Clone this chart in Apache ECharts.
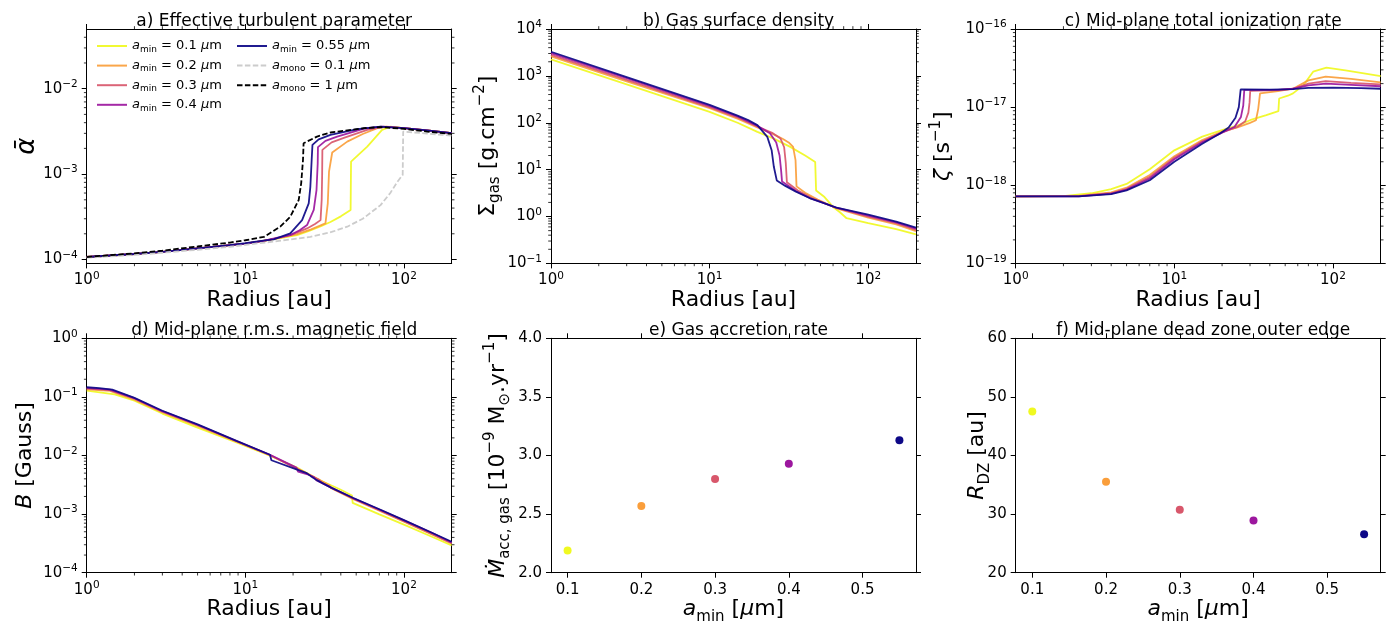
<!DOCTYPE html>
<html><head><meta charset="utf-8">
<script src="https://cdn.jsdelivr.net/npm/echarts@6/dist/echarts.min.js"></script>
<style>html,body{margin:0;padding:0;background:#fff}#c{width:1392px;height:624px}</style>
</head><body><div id="c"></div><script>
// ---------------- data ----------------
const aminNames = ['amin0.1', 'amin0.2', 'amin0.3', 'amin0.4', 'amin0.55'];
const aminColors = ['#f0f921', '#fa9e3b', '#d8576b', '#9c179e', '#0d0887'];
const aminValues = [0.1, 0.2, 0.3, 0.4, 0.55];
const mdotValues = [2.19, 2.57, 2.80, 2.93, 3.13];
const rdzValues = [47.5, 35.5, 30.75, 28.9, 26.55];

// a) effective turbulent parameter  [radius au, alpha]
const alpha01 = [[1,1.07e-4],[2,1.16e-4],[3,1.23e-4],[5,1.35e-4],[8,1.47e-4],[10,1.53e-4],[13,1.65e-4],[16.6,1.78e-4],[21.2,1.93e-4],[25,2.15e-4],[30,2.45e-4],[34.4,2.75e-4],[40,3.2e-4],[46.1,3.8e-4],[46.4,1.4e-3],[58.7,2.1e-3],[72.8,3.3e-3],[82,3.6e-3],[100,3.45e-3],[140,3.25e-3],[200,3.02e-3]];
const alpha02 = [[1,1.07e-4],[2,1.16e-4],[3,1.23e-4],[5,1.35e-4],[8,1.47e-4],[10,1.53e-4],[13,1.65e-4],[16.6,1.8e-4],[21,1.97e-4],[26,2.25e-4],[32,2.65e-4],[33.1,4.55e-4],[33.7,1.07e-3],[35.3,1.79e-3],[43.9,2.4e-3],[55,2.95e-3],[68,3.45e-3],[78,3.6e-3],[100,3.45e-3],[140,3.25e-3],[200,3.02e-3]];
const alpha03 = [[1,1.07e-4],[2,1.16e-4],[3,1.23e-4],[5,1.35e-4],[8,1.47e-4],[10,1.53e-4],[13,1.65e-4],[16.6,1.8e-4],[20,1.98e-4],[24.5,2.31e-4],[27.5,2.6e-4],[29.8,2.89e-4],[30.3,5e-4],[30.5,9.8e-4],[30.6,1.92e-3],[35,2.35e-3],[41.8,2.65e-3],[58.7,3.3e-3],[75,3.6e-3],[100,3.45e-3],[140,3.25e-3],[200,3.02e-3]];
const alpha04 = [[1,1.07e-4],[2,1.16e-4],[3,1.23e-4],[5,1.35e-4],[8,1.47e-4],[10,1.53e-4],[13,1.65e-4],[16,1.8e-4],[19.2,1.93e-4],[22,2.2e-4],[24.5,2.53e-4],[27,3.8e-4],[28.1,6.5e-4],[28.6,1.34e-3],[28.7,2.07e-3],[32,2.45e-3],[37.9,2.75e-3],[56,3.4e-3],[72,3.6e-3],[100,3.45e-3],[140,3.25e-3],[200,3.02e-3]];
const alpha055 = [[1,1.07e-4],[2,1.16e-4],[3,1.23e-4],[5,1.35e-4],[8,1.47e-4],[10,1.55e-4],[13,1.66e-4],[15.1,1.72e-4],[19.2,2.02e-4],[22.8,2.89e-4],[25.1,4.55e-4],[25.7,7.1e-4],[26.2,1.47e-3],[26.5,2.2e-3],[29,2.55e-3],[34.4,2.88e-3],[50.8,3.37e-3],[71.2,3.6e-3],[100,3.45e-3],[140,3.25e-3],[200,3.02e-3]];
const alphaMono01 = [[1,1.05e-4],[2,1.13e-4],[3,1.2e-4],[5,1.3e-4],[8,1.41e-4],[15,1.62e-4],[25.7,1.84e-4],[35,2.1e-4],[43.9,2.42e-4],[55,3.0e-4],[71.2,4.33e-4],[82,6.0e-4],[90.8,8.1e-4],[98.2,9.8e-4],[98.9,3.15e-3],[140,2.98e-3],[200,2.82e-3]];
const alphaMono1 = [[1,1.07e-4],[2,1.18e-4],[3,1.27e-4],[5,1.42e-4],[8,1.58e-4],[10,1.68e-4],[13.1,1.84e-4],[16.6,2.42e-4],[19.2,3.16e-4],[21.7,4.97e-4],[22.5,7.8e-4],[23.1,1.47e-3],[23.3,2.3e-3],[28.3,2.75e-3],[34.4,3.07e-3],[56,3.45e-3],[71,3.55e-3],[100,3.38e-3],[140,3.15e-3],[200,2.95e-3]];

// b) gas surface density [radius au, g/cm2]
const sigma01 = [[1,2250],[3,658],[10,171],[15,100],[20,64],[25,47],[32,31],[40,20],[46.3,14.6],[46.9,3.6],[53,2.6],[60,1.6],[66,1.25],[73,0.92],[100,0.72],[150,0.54],[200,0.415]];
const sigma02 = [[1,2600],[3,760],[10,205],[15,122],[20,80],[25,58],[29,45],[31.5,38],[33.6,30.5],[34.8,16],[35.3,4.4],[40,3.2],[48,2.3],[63,1.5],[100,0.95],[150,0.68],[200,0.49]];
const sigma03 = [[1,2800],[3,820],[10,215],[15,130],[20,83],[25,60],[28,46],[29.5,30],[30.2,14],[30.7,5.4],[36,3.6],[45,2.4],[63,1.52],[100,1.0],[150,0.72],[200,0.52]];
const sigma04 = [[1,3050],[3,890],[10,228],[15,136],[20,86],[24,60],[26.3,38],[27.6,20],[28.2,10],[28.6,5.6],[35,3.5],[43,2.45],[63,1.54],[100,1.05],[150,0.75],[200,0.55]];
const sigma055 = [[1,3270],[3,940],[10,240],[15,142],[17.5,114],[20,89],[23.1,50],[24.6,26],[25.4,11.5],[26.5,5.9],[30,4.5],[35,3.4],[43,2.45],[50,2.05],[63,1.55],[100,1.1],[150,0.78],[200,0.58]];

// c) mid-plane total ionization rate [radius au, s^-1]
const zeta01 = [[1,7.2e-19],[2,7.25e-19],[3,7.9e-19],[4,8.9e-19],[5,1.04e-18],[7,1.6e-18],[10,2.8e-18],[15,4.2e-18],[20,5.07e-18],[25,5.8e-18],[30,6.8e-18],[38,7.9e-18],[45.3,8.9e-18],[45.8,1.29e-17],[52,1.4e-17],[56,1.5e-17],[65,1.9e-17],[75,2.84e-17],[91,3.2e-17],[120,2.95e-17],[200,2.5e-17]];
const zeta02 = [[1,7.2e-19],[2.5,7.3e-19],[4,8.1e-19],[5,9.3e-19],[7,1.35e-18],[10,2.35e-18],[15,3.8e-18],[20,4.85e-18],[25,5.5e-18],[30,6.3e-18],[32.7,6.8e-18],[33.8,9.5e-18],[34.7,1.5e-17],[45,1.6e-17],[56,1.72e-17],[70,2.2e-17],[90,2.45e-17],[130,2.3e-17],[200,2.07e-17]];
const zeta03 = [[1,7.2e-19],[2.5,7.25e-19],[4,7.9e-19],[5,9.0e-19],[7,1.28e-18],[10,2.25e-18],[15,3.65e-18],[20,4.75e-18],[25,5.6e-18],[28,6.6e-18],[29.3,8.5e-18],[29.8,1.15e-17],[30.1,1.62e-17],[45,1.65e-17],[56,1.72e-17],[70,2.0e-17],[90,2.15e-17],[130,2.05e-17],[200,1.95e-17]];
const zeta04 = [[1,7.2e-19],[2.5,7.22e-19],[4,7.8e-19],[5,8.8e-19],[7,1.22e-18],[10,2.15e-18],[15,3.55e-18],[20,4.7e-18],[24,5.6e-18],[26.3,7.5e-18],[27.2,1.05e-17],[27.6,1.66e-17],[45,1.66e-17],[56,1.72e-17],[70,1.9e-17],[90,2.0e-17],[130,1.93e-17],[200,1.85e-17]];
const zeta055 = [[1,7.2e-19],[2.5,7.2e-19],[4,7.7e-19],[5,8.6e-19],[7,1.16e-18],[10,2.0e-18],[15,3.4e-18],[19.4,4.6e-18],[22,5.5e-18],[24.3,7.3e-18],[25.5,1.0e-17],[26.2,1.69e-17],[40,1.68e-17],[56,1.7e-17],[70,1.76e-17],[100,1.78e-17],[150,1.75e-17],[200,1.72e-17]];

// d) mid-plane r.m.s. magnetic field [radius au, Gauss]
const bfield01 = [[1,0.128],[1.5,0.11],[2,0.086],[3,0.052],[5,0.030],[8.8,0.0167],[14.3,0.0099],[21,0.0063],[30,0.0037],[40,0.0026],[47,0.00208],[47.5,0.00155],[70,0.00099],[100,0.00066],[150,0.00041],[200,0.000292]];
const bfield02 = [[1,0.134],[1.4,0.127],[2,0.09],[3,0.055],[5,0.032],[8.8,0.0172],[14.3,0.0101],[21,0.0061],[30,0.0037],[34,0.0031],[34.5,0.0028],[48,0.0018],[70,0.00114],[100,0.00074],[150,0.00045],[200,0.000315]];
const bfield03 = [[1,0.139],[1.4,0.131],[2,0.093],[3,0.056],[5,0.033],[8.8,0.0175],[14.3,0.0102],[21,0.006],[29,0.0039],[30.5,0.0034],[48,0.00183],[70,0.00117],[100,0.00076],[150,0.00046],[200,0.00032]];
const bfield04 = [[1,0.143],[1.4,0.133],[2,0.095],[3,0.057],[5,0.0335],[8.8,0.0177],[14.3,0.0103],[21,0.0062],[21.5,0.0053],[25,0.0047],[27,0.0043],[28,0.0038],[35,0.0028],[48,0.00186],[70,0.0012],[100,0.00078],[150,0.00048],[200,0.000328]];
const bfield055 = [[1,0.146],[1.2,0.141],[1.45,0.133],[2,0.096],[3,0.058],[5,0.034],[8.8,0.0178],[14.3,0.0103],[14.6,0.0083],[21,0.0058],[24.4,0.005],[26,0.0044],[28.2,0.0038],[35,0.0028],[48,0.00188],[70,0.00121],[100,0.00079],[150,0.00048],[200,0.000337]];

// tick labels / ticks
const radiusMajor = [1, 10, 100];
const alphaMajor = [1e-4, 1e-3, 1e-2];
const sigmaMajor = [1e-1, 1, 10, 100, 1000, 10000];
const zetaMajor = [1e-19, 1e-18, 1e-17, 1e-16];
const bfieldMajor = [1e-4, 1e-3, 1e-2, 1e-1, 1];
const aminTicks = [0.1, 0.2, 0.3, 0.4, 0.5];
const mdotTicks = [2.0, 2.5, 3.0, 3.5, 4.0];
const rdzTicks = [20, 30, 40, 50, 60];

// ---------------- helpers ----------------
const FONT = 'DejaVu Sans';
function minorLog(lo, hi) {
  const out = [];
  for (let e = Math.floor(Math.log10(lo)); e <= Math.ceil(Math.log10(hi)); e++) {
    for (let k = 2; k <= 9; k++) {
      const v = k * Math.pow(10, e);
      if (v > lo * 1.0001 && v < hi * 0.9999) out.push(v);
    }
  }
  return out;
}
function powFmt(v) {
  const e = Math.round(Math.log10(v));
  return '10{sup|' + (e < 0 ? '\u2212' + (-e) : e) + '}';
}
const tickRich = { sup: { fontSize: 10.5, fontFamily: FONT, color: '#000', verticalAlign: 'top', lineHeight: 10 } };
const nameRich = {
  i: { fontStyle: 'italic', fontSize: 22, fontFamily: FONT, color: '#000' },
  ibig: { fontStyle: 'italic', fontSize: 26, fontFamily: FONT, color: '#000' },
  sub: { fontSize: 15, fontFamily: FONT, color: '#000', verticalAlign: 'bottom', lineHeight: 15 },
  sup: { fontSize: 15, fontFamily: FONT, color: '#000', verticalAlign: 'top', lineHeight: 15 }
};
const GW = 365, GH = 234.4;
const gridPos = [[86.7, 29], [551, 29], [1015.7, 29], [86.7, 338.3], [551, 338.3], [1015.7, 338.3]];

const panels = [
  { xt: 'log', xr: [1, 200], xm: radiusMajor, xf: powFmt, xname: 'Radius [au]',
    yt: 'log', yr: [9e-5, 0.05], ym: alphaMajor, yf: powFmt, yname: '{ibig|\u1FB1}', ygap: 44 },
  { xt: 'log', xr: [1, 200], xm: radiusMajor, xf: powFmt, xname: 'Radius [au]',
    yt: 'log', yr: [0.1, 1e4], ym: sigmaMajor, yf: powFmt, yname: '\u03A3{sub|gas} [g.cm{sup|\u22122}]', ygap: 48 },
  { xt: 'log', xr: [1, 200], xm: radiusMajor, xf: powFmt, xname: 'Radius [au]',
    yt: 'log', yr: [1e-19, 1e-16], ym: zetaMajor, yf: powFmt, yname: '{i|\u03B6} [s{sup|\u22121}]', ygap: 57 },
  { xt: 'log', xr: [1, 200], xm: radiusMajor, xf: powFmt, xname: 'Radius [au]',
    yt: 'log', yr: [1e-4, 1], ym: bfieldMajor, yf: powFmt, yname: '{i|B} [Gauss]', ygap: 46 },
  { xt: 'value', xr: [0.0775, 0.5725], xm: aminTicks, xf: v => v.toFixed(1), xname: '{i|a}{sub|min} [{i|\u03BC}m]',
    yt: 'value', yr: [2, 4], ym: mdotTicks, yf: v => v.toFixed(1), yname: '{i|\u1E40}{sub|acc, gas} [10{sup|\u22129} M{sub|\u2299}.yr{sup|\u22121}]', ygap: 38 },
  { xt: 'value', xr: [0.0775, 0.5725], xm: aminTicks, xf: v => v.toFixed(1), xname: '{i|a}{sub|min} [{i|\u03BC}m]',
    yt: 'value', yr: [20, 60], ym: rdzTicks, yf: v => String(v), yname: '{i|R}{sub|DZ} [au]', ygap: 23 }
];
const titles = ['a) Effective turbulent parameter', 'b) Gas surface density', 'c) Mid-plane total ionization rate',
  'd) Mid-plane r.m.s. magnetic field', 'e) Gas accretion rate', 'f) Mid-plane dead zone outer edge'];

const grids = [], xAxes = [], yAxes = [], titleOpts = [], series = [];
panels.forEach((p, gi) => {
  grids.push({ left: gridPos[gi][0], top: gridPos[gi][1], width: GW, height: GH, containLabel: false, outerBoundsMode: 'none' });
  titleOpts.push({ text: titles[gi], left: gridPos[gi][0] + GW / 2, top: gridPos[gi][1] - 21, textAlign: 'center',
    textStyle: { fontSize: 17, fontWeight: 'normal', fontFamily: FONT, color: '#000' } });
  ['bottom', 'top'].forEach(pos => {
    const main = pos === 'bottom';
    xAxes.push({
      gridIndex: gi, type: p.xt, logBase: 10, position: pos, min: p.xr[0], max: p.xr[1],
      axisLine: { show: true, onZero: false, lineStyle: { color: '#000', width: 1 } },
      axisTick: { show: true, inside: false, length: 5, customValues: p.xm, lineStyle: { color: '#000', width: 1 } },
      axisLabel: { show: main, customValues: p.xm, formatter: p.xf, fontFamily: FONT, fontSize: 15, color: '#000', margin: 7, lineHeight: 20, rich: tickRich },
      splitLine: { show: false }, minorTick: { show: false },
      name: main ? p.xname : '', nameLocation: 'middle', nameGap: 22, nameMoveOverlap: false,
      nameTextStyle: { fontFamily: FONT, fontSize: 22, color: '#000', lineHeight: 30, rich: nameRich }
    });
  });
  ['left', 'right'].forEach(pos => {
    const main = pos === 'left';
    yAxes.push({
      gridIndex: gi, type: p.yt, logBase: 10, position: pos, min: p.yr[0], max: p.yr[1],
      axisLine: { show: true, onZero: false, lineStyle: { color: '#000', width: 1 } },
      axisTick: { show: true, inside: false, length: 5, customValues: p.ym, lineStyle: { color: '#000', width: 1 } },
      axisLabel: { show: main, customValues: p.ym, formatter: p.yf, fontFamily: FONT, fontSize: 15, color: '#000', margin: 9, lineHeight: 20, rich: tickRich },
      splitLine: { show: false }, minorTick: { show: false },
      name: main ? p.yname : '', nameLocation: 'middle', nameRotate: 90, nameGap: p.ygap, nameMoveOverlap: false,
      nameTextStyle: { fontFamily: FONT, fontSize: 22, color: '#000', lineHeight: 30, rich: nameRich }
    });
  });
});

// line series (panel a first so legend picks up its styles)
const aSets = [alpha01, alpha02, alpha03, alpha04, alpha055];
const bSets = [sigma01, sigma02, sigma03, sigma04, sigma055];
const cSets = [zeta01, zeta02, zeta03, zeta04, zeta055];
const dSets = [bfield01, bfield02, bfield03, bfield04, bfield055];
[aSets, bSets, cSets, dSets].forEach((sets, gi) => {
  sets.forEach((d, k) => {
    series.push({ type: 'line', name: aminNames[k], xAxisIndex: 2 * gi, yAxisIndex: 2 * gi, data: d,
      symbol: 'none', showSymbol: false, silent: true, animation: false, z: 3,
      lineStyle: { color: aminColors[k], width: 1.8, opacity: 0.92 }, itemStyle: { color: aminColors[k] } });
  });
  if (gi === 0) {
    series.push({ type: 'line', name: 'amono0.1', xAxisIndex: 0, yAxisIndex: 0, data: alphaMono01, symbol: 'none', silent: true, animation: false, z: 3,
      lineStyle: { color: '#cccccc', width: 1.8, type: [5.5, 2.4] }, itemStyle: { color: '#cccccc' } });
    series.push({ type: 'line', name: 'amono1', xAxisIndex: 0, yAxisIndex: 0, data: alphaMono1, symbol: 'none', silent: true, animation: false, z: 4,
      lineStyle: { color: '#000000', width: 1.8, type: [5.5, 2.4] }, itemStyle: { color: '#000000' } });
  }
});
// scatter panels
series.push({ type: 'scatter', xAxisIndex: 8, yAxisIndex: 8, symbolSize: 8, silent: true, animation: false,
  data: aminValues.map((a, i) => ({ value: [a, mdotValues[i]], itemStyle: { color: aminColors[i], opacity: 1 } })) });
series.push({ type: 'scatter', xAxisIndex: 10, yAxisIndex: 10, symbolSize: 8, silent: true, animation: false,
  data: aminValues.map((a, i) => ({ value: [a, rdzValues[i]], itemStyle: { color: aminColors[i], opacity: 1 } })) });

// minor ticks for the log panels, drawn through the axes' scales
[0, 1, 2, 3].forEach(gi => {
  const p = panels[gi];
  const data = [];
  minorLog(p.xr[0], p.xr[1]).forEach(v => data.push([v, p.yr[0], 0]));
  minorLog(p.yr[0], p.yr[1]).forEach(v => data.push([p.xr[0], v, 1]));
  const ML = 2.8;
  series.push({ type: 'custom', xAxisIndex: 2 * gi, yAxisIndex: 2 * gi, clip: false, silent: true, animation: false, z: 6, data,
    renderItem: function (params, api) {
      const kind = api.value(2);
      const st = { stroke: '#000', lineWidth: 0.8 };
      if (kind === 0) {
        const v = api.value(0);
        const b = api.coord([v, p.yr[0]]), t = api.coord([v, p.yr[1]]);
        return { type: 'group', children: [
          { type: 'line', shape: { x1: b[0], y1: b[1], x2: b[0], y2: b[1] + ML }, style: st },
          { type: 'line', shape: { x1: t[0], y1: t[1], x2: t[0], y2: t[1] - ML }, style: st }] };
      }
      const v = api.value(1);
      const l = api.coord([p.xr[0], v]), r = api.coord([p.xr[1], v]);
      return { type: 'group', children: [
        { type: 'line', shape: { x1: l[0], y1: l[1], x2: l[0] - ML, y2: l[1] }, style: st },
        { type: 'line', shape: { x1: r[0], y1: r[1], x2: r[0] + ML, y2: r[1] }, style: st }] };
    } });
});

const legendText = {
  'amin0.1': '{i|a}{sub|min} = 0.1 {i|\u03BC}m', 'amin0.2': '{i|a}{sub|min} = 0.2 {i|\u03BC}m',
  'amin0.3': '{i|a}{sub|min} = 0.3 {i|\u03BC}m', 'amin0.4': '{i|a}{sub|min} = 0.4 {i|\u03BC}m',
  'amin0.55': '{i|a}{sub|min} = 0.55 {i|\u03BC}m', 'amono0.1': '{i|a}{sub|mono} = 0.1 {i|\u03BC}m',
  'amono1': '{i|a}{sub|mono} = 1 {i|\u03BC}m'
};
const legendStyle = {
  fontFamily: FONT, fontSize: 13, color: '#000', lineHeight: 16,
  rich: { i: { fontStyle: 'italic', fontFamily: FONT, fontSize: 13, color: '#000' },
          sub: { fontFamily: FONT, fontSize: 9, color: '#000', verticalAlign: 'bottom', lineHeight: 9 } }
};
const legendBase = { orient: 'vertical', itemWidth: 30, itemHeight: 12, itemGap: 3.6, padding: 0, selectedMode: false,
  formatter: n => legendText[n], textStyle: legendStyle, itemStyle: { opacity: 0 } };

const option = {
  backgroundColor: '#fff', animation: false,
  title: titleOpts, grid: grids, xAxis: xAxes, yAxis: yAxes, series,
  legend: [
    Object.assign({}, legendBase, { left: 96, top: 38, data: ['amin0.1', 'amin0.2', 'amin0.3', 'amin0.4'] }),
    Object.assign({}, legendBase, { left: 236, top: 38, data: ['amin0.55', 'amono0.1', 'amono1'] })
  ]
};
const chart = echarts.init(document.getElementById('c'), null, { renderer: 'canvas' });
chart.setOption(option);
</script></body></html>
